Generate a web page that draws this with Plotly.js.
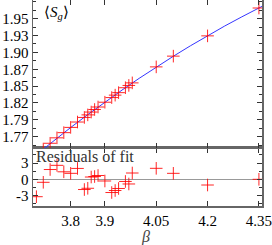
<!DOCTYPE html>
<html><head><meta charset="utf-8">
<script src="https://cdn.plot.ly/plotly-3.0.1.min.js"></script>
<style>html,body{margin:0;padding:0;background:#fff}#chart{width:272px;height:245px}</style>
</head><body><div id="chart"></div>
<script>
// Data
const beta  = [3.70, 3.72, 3.74, 3.76, 3.78, 3.80, 3.82, 3.84, 3.85, 3.86, 3.87, 3.88, 3.90, 3.92, 3.93, 3.94, 3.96, 3.97, 3.98, 4.05, 4.10, 4.20, 4.35];
const sg    = [1.7422, 1.7512, 1.7600, 1.7683, 1.7762, 1.7842, 1.7924, 1.7994, 1.8033, 1.8076, 1.8115, 1.8153, 1.8226, 1.8297, 1.8334, 1.8372, 1.8447, 1.8482, 1.8521, 1.8765, 1.8929, 1.9238, 1.9663];
const resid = [-3.2, -0.55, 1.8, 2.57, 1.38, 1.1, 2.0, -1.88, -1.65, 0.42, 0.51, 0.7, -0.31, -2.43, -2.06, -1.69, -0.4, -0.86, 1.16, 2.02, 1.1, -1.05, 0.0];
const fitBeta = [3.69, 3.75, 3.80, 3.85, 3.90, 3.95, 4.00, 4.05, 4.10, 4.15, 4.20, 4.25, 4.30, 4.36];
const fitSg   = [1.7386, 1.7637, 1.7840, 1.8037, 1.8227, 1.8411, 1.8590, 1.8761, 1.8927, 1.9087, 1.9240, 1.9388, 1.9528, 1.9690];
const xTickVals = [3.8, 3.9, 4.05, 4.2, 4.35];
const xTickText = ["3.8", "3.9", "4.05", "4.2", "4.35"];
const yTickVals = [1.77, 1.795714, 1.821429, 1.847143, 1.872857, 1.898571, 1.924286, 1.95];
const yTickText = ["1.77", "1.79", "1.82", "1.85", "1.87", "1.90", "1.93", "1.95"];
const rTickVals = [-3, 0, 3];
const rTickText = ["-3", "0", "3"];

const serif = "Liberation Serif, Times New Roman, serif";
const tf = {family: serif, size: 15, color: "#000"};
const axisLine = "#666";
const red = "rgba(255,0,0,0.85)";
const marker = {symbol: "cross-thin-open", size: 9, color: red, line: {color: red, width: 1}};

const traces = [
  {x: fitBeta, y: fitSg, xaxis: "x2", yaxis: "y", mode: "lines",
   line: {color: "#3535ff", width: 1}, hoverinfo: "skip"},
  {x: beta, y: sg, xaxis: "x2", yaxis: "y", mode: "markers", marker: marker},
  {x: beta, y: resid, xaxis: "x", yaxis: "y2", mode: "markers", marker: marker}
];

const common = {showline: true, linecolor: axisLine, linewidth: 1.5, mirror: "ticks",
  ticks: "inside", ticklen: 5, tickcolor: "#333", tickwidth: 1, showgrid: false, zeroline: false,
  tickfont: tf, fixedrange: true, ticklabeloverflow: "allow"};

const layout = {
  width: 272, height: 245,
  margin: {l: 33, r: 10, t: 0, b: 39},
  paper_bgcolor: "#fff", plot_bgcolor: "#fff",
  showlegend: false,
  font: tf,
  xaxis: Object.assign({}, common, {domain: [0, 1], anchor: "y2", range: [3.69, 4.359],
    tickmode: "array", tickvals: xTickVals, ticktext: xTickText}),
  xaxis2: Object.assign({}, common, {domain: [0, 1], anchor: "y", matches: "x", range: [3.69, 4.359],
    tickmode: "array", tickvals: xTickVals, showticklabels: false}),
  yaxis: Object.assign({}, common, {domain: [0.2816, 1], anchor: "x2", range: [1.7528, 1.9785],
    tickmode: "array", tickvals: yTickVals, ticktext: yTickText,
    minor: {tick0: 1.77, dtick: 0.0128571, ticks: "inside", ticklen: 3, tickcolor: "#333"}}),
  yaxis2: Object.assign({}, common, {domain: [0, 0.2816], anchor: "x", range: [-4.91, 5.76],
    tickmode: "array", tickvals: rTickVals, ticktext: rTickText,
    zeroline: true, zerolinecolor: "#999", zerolinewidth: 1,
    minor: {tick0: 0, dtick: 1.5, ticks: "inside", ticklen: 3, tickcolor: "#333"}}),
  annotations: [
    {xref: "x domain", yref: "y domain", x: 0.04, y: 0.985, xanchor: "left", yanchor: "top",
     text: "⟨<i>S</i><sub><i>g</i></sub>⟩", showarrow: false, font: {family: serif, size: 15, color: "#000"}},
    {xref: "x domain", yref: "y2 domain", x: 0.005, y: 1.04, xanchor: "left", yanchor: "top",
     text: "Residuals of fit", showarrow: false, font: {family: serif, size: 16, color: "#333"}},
    {xref: "paper", yref: "paper", x: 0.49, y: -0.149, xanchor: "center", yanchor: "middle",
     text: "<i>β</i>", showarrow: false, font: {family: serif, size: 16, color: "#444"}}
  ]
};

Plotly.newPlot("chart", traces, layout, {staticPlot: true, displayModeBar: false});
</script>
</body></html>
